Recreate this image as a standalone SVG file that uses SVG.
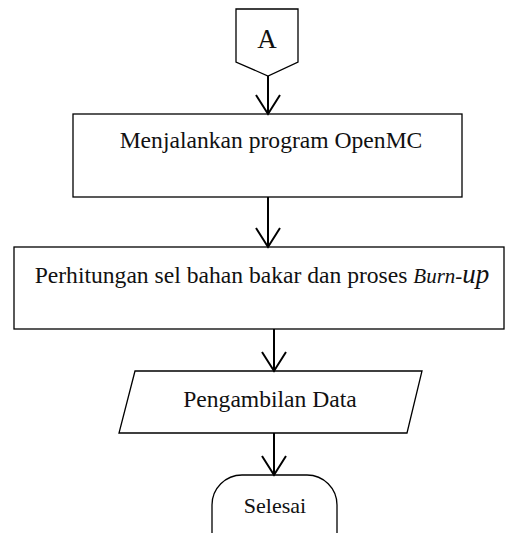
<svg xmlns="http://www.w3.org/2000/svg" width="508" height="533" viewBox="0 0 508 533">
<style>
.s{fill:#fff;stroke:#000;stroke-width:1.3}
.t{font-family:"Liberation Serif",serif;font-size:23.6px;fill:#111;text-anchor:middle}
.c line,.c polyline{stroke:#000;stroke-width:2;fill:none}
</style>
<rect width="508" height="533" fill="#fff"/>
<g id="nA"><polygon class="s" points="236,9 298,9 298,62 268,76 236,62"/><text class="t" x="267" y="48" style="font-size:27px">A</text></g>
<g id="n1"><rect class="s" x="73" y="114" width="389" height="83"/><text class="t" x="271" y="148">Menjalankan program OpenMC</text></g>
<g id="n2"><rect class="s" x="14" y="247" width="490" height="82"/><text class="t" x="262" y="283">Perhitungan sel bahan bakar dan proses <tspan font-style="italic" font-size="21">Burn-</tspan><tspan font-style="italic" font-size="27">up</tspan></text></g>
<g id="n3"><polygon class="s" points="135,371 422,371 407,433 119,433"/><text class="t" x="270" y="407">Pengambilan Data</text></g>
<g id="n4"><path class="s" d="M242,475 H307 A30,30 0 0 1 337,505 V545 H212 V505 A30,30 0 0 1 242,475 Z"/><text class="t" x="275" y="513" style="font-size:22px">Selesai</text></g>
<g class="c">
<line x1="268" y1="76" x2="268" y2="114"/><polyline points="256,95 268,114 280,95"/>
<line x1="268" y1="197" x2="268" y2="247"/><polyline points="256,228 268,247 280,228"/>
<line x1="274" y1="329" x2="274" y2="371"/><polyline points="262,352 274,371 286,352"/>
<line x1="274" y1="433" x2="274" y2="475"/><polyline points="262,456 274,475 286,456"/>
</g>
</svg>
